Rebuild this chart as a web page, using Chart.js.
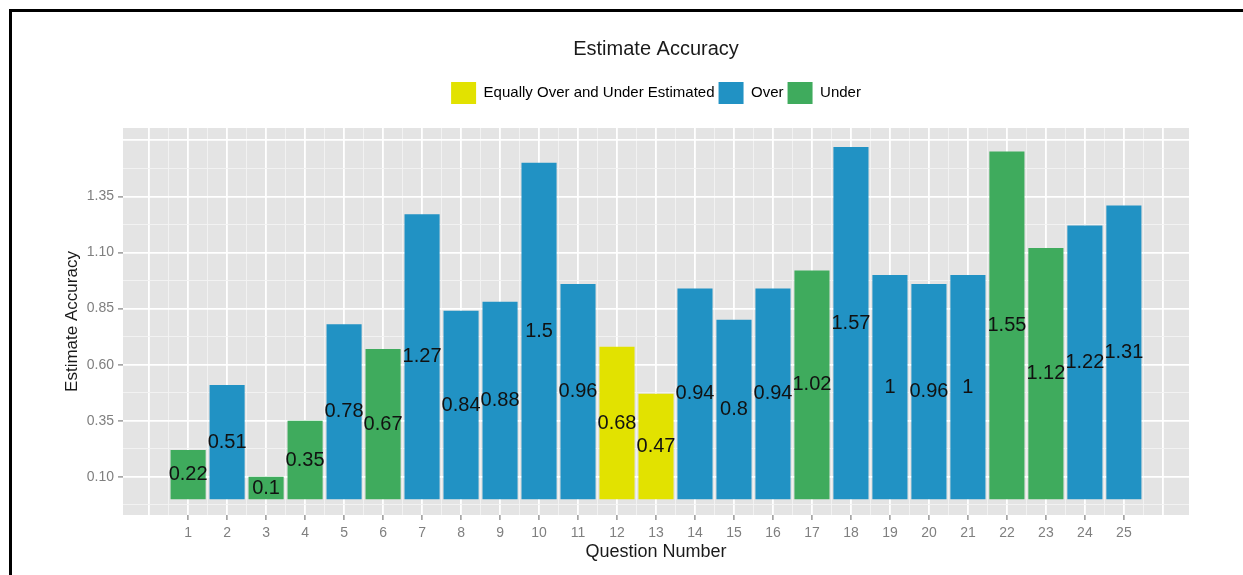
<!DOCTYPE html>
<html>
<head>
<meta charset="utf-8">
<script src="https://cdn.jsdelivr.net/npm/chart.js@4.4.1/dist/chart.umd.min.js"></script>
<style>
html,body{margin:0;padding:0;background:#fff;overflow:hidden;}
#wrap{position:relative;width:1243px;height:575px;}
#frame{position:absolute;left:9px;top:9px;width:1400px;height:800px;border-left:3px solid #000;border-top:3px solid #000;pointer-events:none;}
</style>
</head>
<body>
<div id="wrap"><canvas id="c" width="1243" height="575"></canvas><div id="frame"></div></div>
<script>
// ---- data ----
const questions = [1,2,3,4,5,6,7,8,9,10,11,12,13,14,15,16,17,18,19,20,21,22,23,24,25];
const accuracy  = [0.22,0.51,0.1,0.35,0.78,0.67,1.27,0.84,0.88,1.5,0.96,0.68,0.47,0.94,0.8,0.94,1.02,1.57,1,0.96,1,1.55,1.12,1.22,1.31];
const groups    = ['Under','Over','Under','Under','Over','Under','Over','Over','Over','Over','Over','Equally Over and Under Estimated','Equally Over and Under Estimated','Over','Over','Over','Under','Over','Over','Over','Over','Under','Under','Over','Over'];
const groupNames  = ['Equally Over and Under Estimated','Over','Under'];
const groupColors = ['#E2E200','#2192C4','#3FAB5D'];
const yTickValues = [0.10,0.35,0.60,0.85,1.10,1.35];
const yTickLabels = ['0.10','0.35','0.60','0.85','1.10','1.35'];

const FONT = '"Liberation Sans", Arial, sans-serif';
const colorOf = g => groupColors[groupNames.indexOf(g)];

// gridline positions (major + minor) for the ggplot-like panel
const xGrid = [];
for (let k = 0; k <= 52; k++) xGrid.push(k / 2);
const yMajor = yTickValues.concat([1.60]);
const yGrid = [-0.025];
yMajor.forEach((v, i) => { yGrid.push(v); if (i < yMajor.length - 1) yGrid.push((v + yMajor[i + 1]) / 2); });

const isXLabel = v => questions.some(q => Math.abs(q - v) < 1e-6);
const yLabelIdx = v => yTickValues.findIndex(t => Math.abs(t - v) < 1e-6);
const isYMajor = v => yMajor.some(t => Math.abs(t - v) < 1e-6);

const panelBg = {
  id: 'panelBg',
  beforeDraw(chart) {
    const {ctx, chartArea: a} = chart;
    ctx.save();
    ctx.fillStyle = '#ffffff';
    ctx.fillRect(0, 0, chart.width, chart.height);
    ctx.fillStyle = '#E4E4E4';
    ctx.fillRect(a.left, a.top, a.right - a.left, a.bottom - a.top);
    ctx.restore();
  }
};

const valueLabels = {
  id: 'valueLabels',
  afterDatasetsDraw(chart) {
    const {ctx} = chart;
    const ys = chart.scales.y;
    const meta = chart.getDatasetMeta(0);
    ctx.save();
    ctx.font = '20px ' + FONT;
    ctx.fillStyle = '#111111';
    ctx.textAlign = 'center';
    ctx.textBaseline = 'middle';
    meta.data.forEach((bar, i) => {
      ctx.fillText(String(accuracy[i]), bar.x, ys.getPixelForValue(accuracy[i] / 2));
    });
    ctx.restore();
  }
};

const legendSpacer = {
  id: 'legendSpacer',
  beforeLayout(chart) {
    const lg = chart.legend;
    if (lg && !lg._spacerPatched) {
      const f = lg.fit.bind(lg);
      lg.fit = function () { f(); this.height += 14; };
      lg._spacerPatched = true;
    }
  }
};

new Chart(document.getElementById('c'), {
  type: 'bar',
  data: {
    datasets: [{
      data: questions.map((q, i) => ({x: q, y: accuracy[i]})),
      backgroundColor: groups.map(colorOf),
      borderWidth: 0,
      categoryPercentage: 2,
      barPercentage: 0.9
    }]
  },
  options: {
    responsive: false,
    animation: false,
    devicePixelRatio: 1,
    layout: {padding: {left: 50, right: 54, top: 0, bottom: 0}},
    plugins: {
      tooltip: {enabled: false},
      title: {
        display: true,
        fullSize: false,
        text: 'Estimate Accuracy',
        color: '#1a1a1a',
        font: {family: FONT, size: 20, weight: 'normal'},
        padding: {top: 37, bottom: 17}
      },
      legend: {
        display: true,
        fullSize: false,
        position: 'top',
        labels: {
          boxWidth: 25,
          boxHeight: 22,
          padding: 4,
          color: '#1a1a1a',
          font: {family: FONT, size: 15},
          generateLabels: () => groupNames.map((n, i) => ({
            text: n, fillStyle: groupColors[i], strokeStyle: groupColors[i], lineWidth: 0, hidden: false, datasetIndex: 0
          }))
        },
        onClick: () => {}
      }
    },
    scales: {
      x: {
        type: 'linear',
        min: -0.67,
        max: 26.67,
        offset: false,
        afterBuildTicks: s => { s.ticks = xGrid.map(v => ({value: v})); },
        afterFit: s => { s.height = 60; },
        grid: {
          offset: false,
          drawTicks: true,
          tickLength: 5,
          color: c => (c.tick && Number.isInteger(c.tick.value)) ? '#FFFFFF' : '#F3F3F3',
          lineWidth: c => (c.tick && Number.isInteger(c.tick.value)) ? 1.8 : 0.9,
          tickColor: c => (c.tick && isXLabel(c.tick.value)) ? '#7F7F7F' : 'rgba(0,0,0,0)',
          tickWidth: 1.2
        },
        border: {display: false},
        ticks: {
          autoSkip: false,
          maxRotation: 0,
          padding: 5,
          color: '#7F7F7F',
          font: {family: FONT, size: 14},
          callback: v => isXLabel(v) ? String(questions[questions.findIndex(q => Math.abs(q - v) < 1e-6)]) : ''
        },
        title: {
          display: true,
          text: 'Question Number',
          color: '#1a1a1a',
          font: {family: FONT, size: 18},
          padding: {top: 0, bottom: 12}
        }
      },
      y: {
        type: 'linear',
        min: -0.07,
        max: 1.655,
        afterBuildTicks: s => { s.ticks = yGrid.map(v => ({value: v})); },
        afterFit: s => { s.width = 73; },
        grid: {
          drawTicks: true,
          tickLength: 5,
          color: c => (c.tick && isYMajor(c.tick.value)) ? '#FFFFFF' : '#F3F3F3',
          lineWidth: c => (c.tick && isYMajor(c.tick.value)) ? 1.8 : 0.9,
          tickColor: c => (c.tick && yLabelIdx(c.tick.value) >= 0) ? '#7F7F7F' : 'rgba(0,0,0,0)',
          tickWidth: 1.2
        },
        border: {display: false},
        ticks: {
          autoSkip: false,
          padding: 4,
          color: '#7F7F7F',
          font: {family: FONT, size: 14},
          callback: v => { const i = yLabelIdx(v); return i >= 0 ? yTickLabels[i] : ''; }
        },
        title: {
          display: true,
          text: 'Estimate Accuracy',
          color: '#1a1a1a',
          font: {family: FONT, size: 17},
          padding: {top: 12, bottom: 0}
        }
      }
    }
  },
  plugins: [panelBg, valueLabels, legendSpacer]
});
</script>
</body>
</html>
